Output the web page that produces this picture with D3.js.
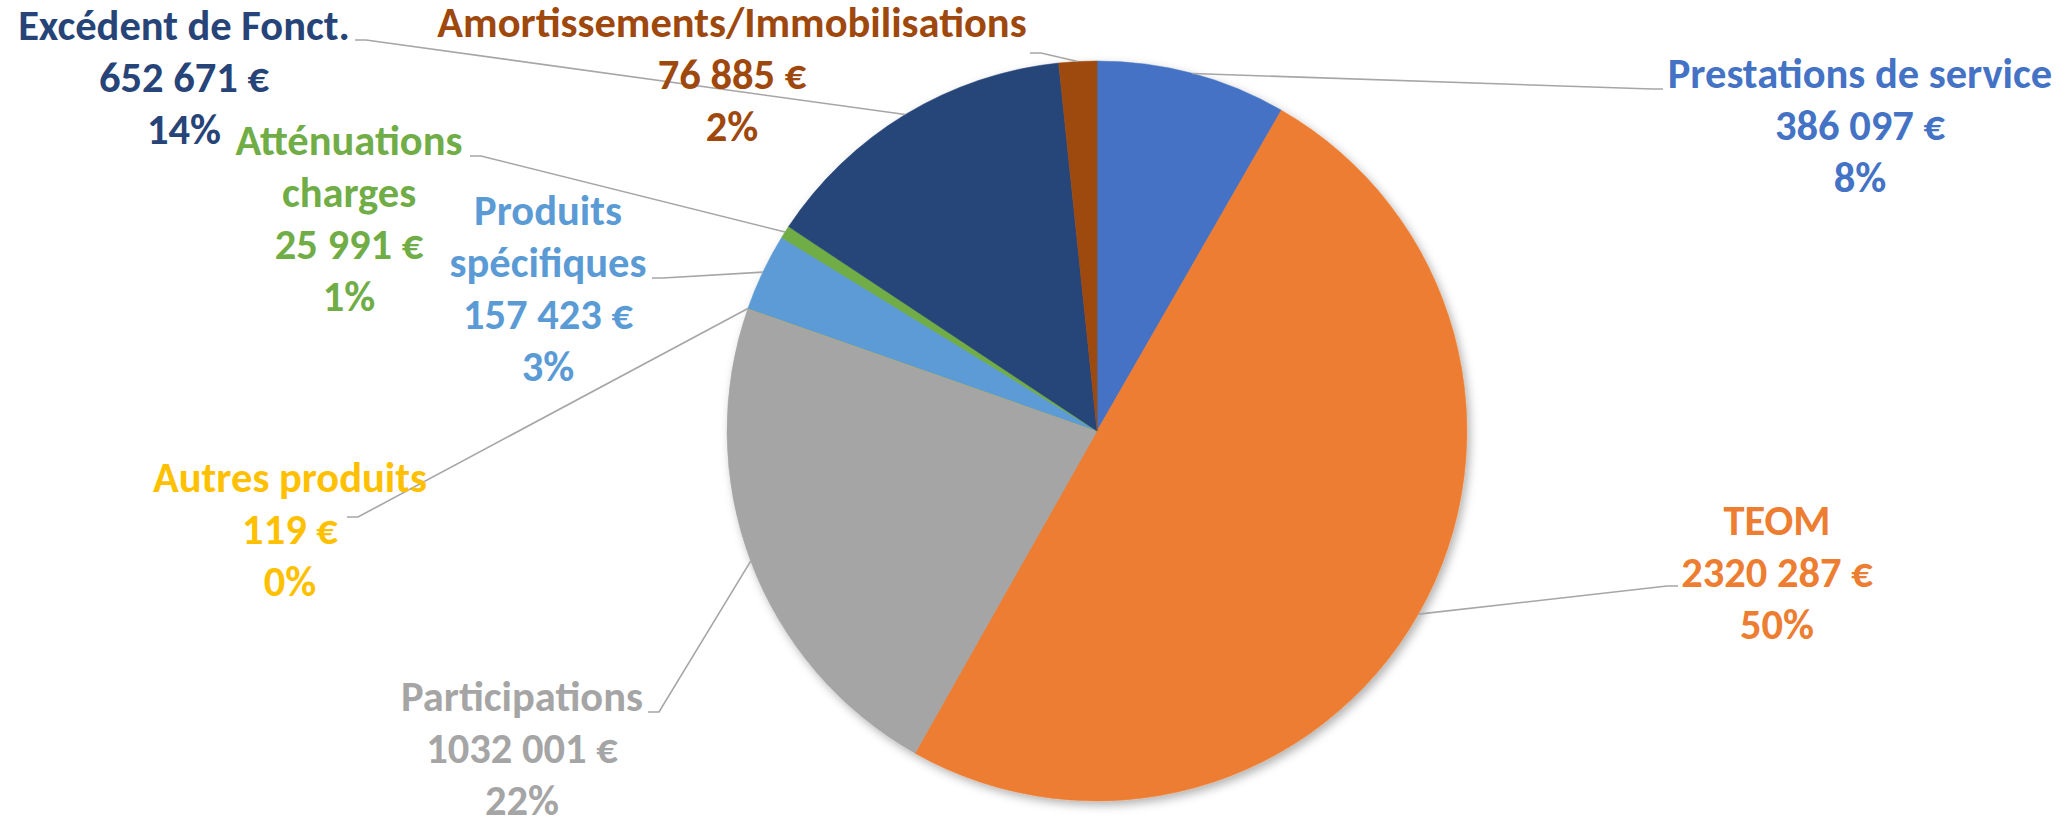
<!DOCTYPE html>
<html>
<head>
<meta charset="utf-8">
<script src="https://cdn.jsdelivr.net/npm/d3@7"></script>
<style>
  html, body { margin: 0; padding: 0; background: #fff; }
  .lbl { font-family: Carlito, Calibri, "Liberation Sans Narrow", "Liberation Sans", Arial, sans-serif; font-weight: bold; }
</style>
</head>
<body>
<div id="chart"></div>
<script>
// data
var categories = ["Prestations de service", "TEOM", "Participations", "Autres produits",
  "Produits spécifiques", "Atténuations charges", "Excédent de Fonct.", "Amortissements/Immobilisations"];
var values = [386097, 2320287, 1032001, 119, 157423, 25991, 652671, 76885];
var nameLines = [["Prestations de service"], ["TEOM"], ["Participations"], ["Autres produits"],
  ["Produits", "spécifiques"], ["Atténuations", "charges"], ["Excédent de Fonct."], ["Amortissements/Immobilisations"]];
var colors = ["#4472C4", "#ED7D31", "#A5A5A5", "#FFC000", "#5B9BD5", "#70AD47", "#264478", "#9E480E"];

// where the data labels sit (x = centre of text block, y = first baseline, a = leader attach point)
var labelLayout = [
  {x: 1860, y: 88,  ax: 1663, ay: 89,  dir: -1},
  {x: 1777, y: 535, ax: 1678, ay: 586, dir: -1},
  {x: 522,  y: 711, ax: 648,  ay: 712, dir: 1},
  {x: 290,  y: 492, ax: 347,  ay: 517, dir: 1},
  {x: 548,  y: 225, ax: 652,  ay: 278, dir: 1},
  {x: 349,  y: 155, ax: 470,  ay: 156, dir: 1},
  {x: 184,  y: 40,  ax: 355,  ay: 40,  dir: 1},
  {x: 732,  y: 37,  ax: 1030, ay: 53,  dir: 1}
];

var width = 2070, height = 821;
var cx = 1097, cy = 431, radius = 370;
var fontSize = 42.5, lineH = 52;

var data = categories.map(function(c, i) {
  return {name: c, value: values[i], lines: nameLines[i], color: colors[i], pos: labelLayout[i]};
});
var total = d3.sum(values);

// "### ###" style used in the sheet: only the last group is split
function fmtEuro(v) {
  if (v < 1000) return v + " €";
  var rest = v % 1000;
  return Math.floor(v / 1000) + " " + ("00" + rest).slice(-3) + " €";
}

var svg = d3.select("#chart").append("svg")
    .attr("width", width)
    .attr("height", height);

var defs = svg.append("defs");
var f = defs.append("filter").attr("id", "shadow")
    .attr("x", "-10%").attr("y", "-10%").attr("width", "120%").attr("height", "120%");
f.append("feDropShadow")
    .attr("dx", 3).attr("dy", 4).attr("stdDeviation", 5)
    .attr("flood-color", "#000").attr("flood-opacity", 0.3);

var pie = d3.pie().sort(null).value(function(d) { return d.value; });
var arc = d3.arc().innerRadius(0).outerRadius(radius);
var edge = d3.arc().innerRadius(radius).outerRadius(radius);
var arcs = pie(data);

var g = svg.append("g")
    .attr("transform", "translate(" + cx + "," + cy + ")");

g.append("g")
    .attr("filter", "url(#shadow)")
  .selectAll("path")
  .data(arcs)
  .enter().append("path")
    .attr("d", arc)
    .attr("fill", function(d) { return d.data.color; })
    .attr("stroke", function(d) { return d.data.color; })
    .attr("stroke-width", 0.5);

// leader lines
svg.append("g").selectAll("polyline")
  .data(arcs)
  .enter().append("polyline")
    .attr("fill", "none")
    .attr("stroke", "#A6A6A6")
    .attr("stroke-width", 1.6)
    .attr("points", function(d) {
      var p = d.data.pos;
      var e = edge.centroid(d);
      return [[p.ax, p.ay], [p.ax + 11 * p.dir, p.ay], [cx + e[0], cy + e[1]]].join(" ");
    });

// labels
var labels = svg.append("g").selectAll("g.label")
  .data(arcs)
  .enter().append("g")
    .attr("class", "label");

var txt = labels.append("text")
    .attr("class", "lbl")
    .attr("text-anchor", "middle")
    .attr("font-size", fontSize)
    .attr("fill", function(d) { return d.data.color; });

txt.each(function(d) {
  var lines = d.data.lines.concat([fmtEuro(d.data.value), Math.round(d.data.value / total * 100) + "%"]);
  var t = d3.select(this);
  lines.forEach(function(l, i) {
    t.append("tspan")
      .attr("x", 0)
      .attr("y", i * lineH)
      .text(l);
  });
});

// squeeze whatever font we got to the narrow Calibri footprint
var probe = svg.append("text").attr("class", "lbl").attr("font-size", fontSize)
    .text("Prestations de service");
var sx = Math.min(1, 386 / probe.node().getComputedTextLength());
probe.remove();

labels.attr("transform", function(d) {
  return "translate(" + d.data.pos.x + "," + d.data.pos.y + ") scale(" + sx + ",1)";
});
</script>
</body>
</html>
